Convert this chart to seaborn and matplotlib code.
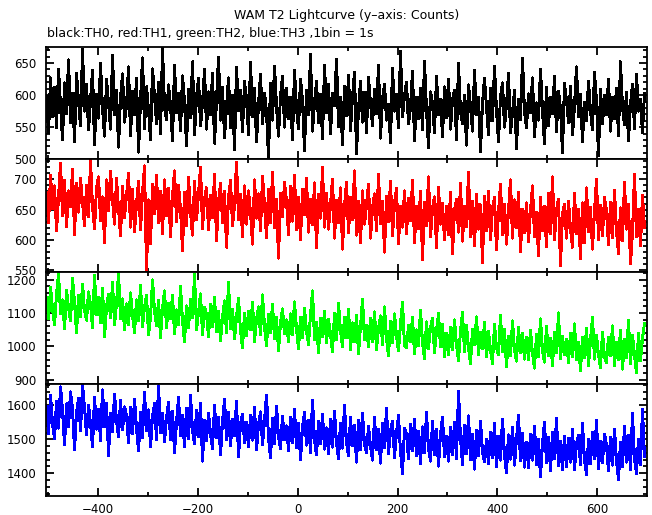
import matplotlib
matplotlib.use('Agg')
import matplotlib.pyplot as plt
from matplotlib.ticker import MultipleLocator
import seaborn as sns
import pandas as pd
import numpy as np

# light curve values (4 s resampled, counts per bin)
t_start = -502
t_step = 4

th0 = [598, 541, 627, 566, 612, 549, 640, 583, 530, 619, 571, 655, 557, 603, 528, 634, 590, 552, 671, 575,
       617, 546, 592, 638, 523, 601, 564, 649, 579, 536, 624, 588, 547, 662, 570, 608, 519, 596, 633, 558,
       585, 644, 537, 606, 569, 626, 511, 592, 658, 548, 613, 577, 531, 641, 599, 556, 620, 540, 673, 581,
       562, 616, 584, 529, 647, 573, 603, 545, 630, 589, 521, 609, 565, 652, 538, 597, 626, 552, 588, 640,
       547, 605, 570, 634, 525, 593, 659, 561, 612, 534, 581, 627, 549, 600, 515, 643, 576, 608, 543, 621,
       594, 539, 651, 567, 610, 527, 586, 632, 555, 603, 574, 502, 618, 561, 645, 582, 536, 598, 629, 550,
       611, 563, 596, 530, 639, 578, 548, 625, 591, 514, 607, 569, 664, 544, 589, 621, 557, 601, 532, 646,
       573, 617, 540, 603, 584, 656, 551, 596, 523, 614, 568, 631, 545, 597, 636, 509, 579, 622, 558, 604,
       542, 628, 587, 553, 609, 571, 647, 533, 594, 617, 561, 585, 526, 642, 575, 601, 549, 668, 566, 599,
       620, 555, 581, 637, 529, 597, 563, 610, 546, 653, 577, 518, 605, 588, 541, 629, 570, 594, 535, 613,
       565, 624, 547, 592, 608, 531, 649, 574, 556, 600, 522, 616, 583, 544, 638, 569, 597, 512, 587, 626,
       581, 539, 611, 560, 645, 576, 528, 598, 619, 550, 585, 634, 541, 572, 607, 516, 593, 562, 657, 574,
       549, 602, 573, 627, 535, 588, 561, 640, 577, 524, 612, 553, 596, 571, 629, 543, 606, 580, 510, 618,
       592, 557, 614, 538, 583, 644, 566, 601, 528, 589, 560, 621, 575, 546, 635, 591, 506, 609, 555, 599,
       570, 625, 544, 596, 563, 611, 537, 652, 582, 554, 604, 529, 586, 617, 548, 632, 575, 594, 541, 603]

th1 = [678, 628, 707, 651, 689, 615, 672, 726, 640, 698, 622, 681, 655, 717, 609, 693, 646, 702, 661, 624,
       690, 638, 731, 654, 619, 686, 704, 632, 671, 596, 699, 648, 713, 665, 626, 701, 652, 607, 688, 637,
       674, 710, 621, 683, 614, 660, 697, 617, 678, 722, 549, 666, 594, 692, 643, 706, 628, 680, 611, 699,
       640, 685, 605, 671, 714, 630, 690, 650, 583, 679, 624, 703, 645, 608, 696, 633, 676, 720, 619, 667,
       686, 617, 673, 637, 708, 599, 664, 693, 629, 680, 588, 670, 698, 623, 657, 728, 634, 675, 606, 689,
       626, 681, 645, 593, 699, 636, 676, 615, 705, 658, 604, 683, 629, 711, 620, 667, 570, 677, 639, 695,
       664, 609, 688, 631, 707, 617, 670, 600, 683, 642, 701, 613, 667, 625, 694, 588, 675, 636, 719, 621,
       677, 618, 660, 700, 603, 665, 628, 686, 585, 655, 695, 612, 670, 633, 714, 608, 663, 595, 681, 626,
       658, 691, 603, 653, 676, 616, 708, 627, 663, 580, 672, 630, 697, 607, 660, 685, 594, 655, 621, 681,
       611, 668, 632, 698, 596, 655, 619, 680, 568, 662, 624, 704, 605, 652, 671, 587, 687, 626, 660, 600,
       656, 609, 679, 577, 649, 667, 613, 693, 598, 655, 622, 711, 606, 663, 590, 675, 618, 658, 563, 672,
       616, 680, 600, 653, 670, 584, 645, 692, 609, 659, 593, 648, 699, 603, 666, 620, 678, 581, 651, 612,
       661, 597, 648, 689, 606, 645, 574, 670, 616, 655, 589, 677, 611, 704, 600, 650, 667, 558, 642, 659,
       603, 664, 618, 588, 677, 610, 650, 569, 661, 596, 686, 614, 654, 585, 646, 700, 601, 657, 607, 670,
       648, 592, 662, 604, 682, 615, 578, 653, 599, 695, 618, 659, 561, 612, 708, 605, 650, 590, 674, 620]

th2 = [1148, 1082, 1177, 1111, 1064, 1156, 1218, 1097, 1139, 1052, 1168, 1115, 1076, 1203, 1131, 1041, 1152, 1090, 1186, 1107,
       1078, 1163, 1124, 1057, 1212, 1096, 1147, 1071, 1174, 1028, 1119, 1155, 1087, 1191, 1066, 1129, 1220, 1082, 1142, 1049,
       1127, 1064, 1160, 1093, 1042, 1139, 1076, 1183, 1058, 1118, 1152, 1035, 1088, 1199, 1106, 1061, 1137, 1027, 1114, 1166,
       1055, 1128, 1083, 1152, 1038, 1109, 1064, 1179, 1077, 1013, 1121, 1057, 1140, 1086, 1215, 1050, 1101, 1157, 1036, 1118,
       1097, 1030, 1126, 1058, 1147, 1044, 1104, 1017, 1085, 1136, 1040, 1192, 1053, 1111, 1022, 1089, 1143, 1046, 996, 1099,
       1031, 1105, 1049, 1131, 1015, 1080, 1118, 1034, 1154, 1059, 1001, 1095, 1040, 1126, 1022, 1086, 988, 1071, 1112, 1038,
       1079, 1013, 1097, 1035, 1133, 1051, 993, 1087, 1026, 1114, 1045, 1006, 1094, 1166, 1020, 1072, 982, 1083, 1030, 1105,
       1012, 1081, 1036, 984, 1099, 1020, 1128, 1046, 1000, 1087, 1027, 1111, 991, 1070, 1015, 1093, 978, 1058, 1141, 1019,
       1063, 999, 1084, 1015, 1103, 990, 1055, 1091, 1006, 1118, 1024, 971, 1074, 1010, 1097, 1031, 986, 1068, 1131, 1003,
       996, 1062, 1015, 1087, 977, 1049, 1001, 1108, 1012, 963, 1073, 994, 1057, 1083, 981, 1046, 1098, 999, 1066, 970,
       1040, 974, 1057, 990, 1079, 1004, 957, 1047, 1101, 984, 1062, 997, 948, 1051, 1006, 1088, 976, 1042, 993, 1071,
       968, 1046, 989, 949, 1065, 996, 974, 1093, 983, 1051, 939, 1031, 971, 1076, 990, 956, 1057, 980, 1040, 962,
       1027, 960, 1048, 979, 935, 1036, 969, 1082, 987, 953, 1060, 972, 1023, 942, 1042, 981, 1100, 964, 1030, 976,
       1021, 951, 1039, 970, 1067, 960, 1012, 927, 1028, 966, 1054, 943, 1017, 1086, 962, 1032, 975, 936, 1043, 968,
       952, 1027, 972, 1061, 943, 1013, 961, 1048, 932, 1020, 967, 1077, 949, 1034, 974, 921, 1039, 958, 1024, 1068]

th3 = [1597, 1518, 1630, 1545, 1502, 1611, 1533, 1655, 1584, 1484, 1605, 1537, 1640, 1589, 1470, 1580, 1620, 1525, 1660, 1593,
       1513, 1601, 1546, 1479, 1624, 1530, 1588, 1497, 1646, 1538, 1607, 1453, 1577, 1522, 1633, 1555, 1507, 1614, 1528, 1596,
       1571, 1490, 1595, 1517, 1619, 1531, 1466, 1580, 1506, 1638, 1525, 1587, 1478, 1568, 1605, 1499, 1658, 1521, 1577, 1493,
       1563, 1609, 1500, 1583, 1461, 1552, 1623, 1511, 1570, 1478, 1592, 1503, 1630, 1527, 1487, 1586, 1508, 1605, 1436, 1556,
       1496, 1577, 1517, 1472, 1601, 1504, 1565, 1455, 1553, 1618, 1499, 1580, 1482, 1560, 1510, 1613, 1449, 1546, 1574, 1491,
       1550, 1478, 1570, 1498, 1595, 1469, 1545, 1581, 1484, 1558, 1630, 1503, 1447, 1563, 1488, 1598, 1509, 1473, 1568, 1500,
       1540, 1467, 1565, 1490, 1589, 1476, 1548, 1440, 1535, 1580, 1483, 1557, 1462, 1616, 1497, 1454, 1553, 1487, 1573, 1471,
       1534, 1459, 1558, 1477, 1583, 1489, 1444, 1547, 1474, 1600, 1492, 1451, 1564, 1481, 1542, 1433, 1555, 1470, 1577, 1486,
       1461, 1539, 1478, 1439, 1564, 1469, 1530, 1430, 1548, 1476, 1591, 1457, 1525, 1553, 1447, 1519, 1570, 1464, 1399, 1532,
       1517, 1443, 1545, 1467, 1558, 1452, 1524, 1429, 1537, 1461, 1579, 1474, 1436, 1552, 1456, 1530, 1421, 1515, 1566, 1449,
       1508, 1436, 1536, 1455, 1550, 1444, 1641, 1504, 1425, 1541, 1459, 1569, 1441, 1515, 1412, 1527, 1451, 1554, 1464, 1433,
       1499, 1428, 1521, 1446, 1546, 1420, 1508, 1439, 1560, 1453, 1401, 1513, 1442, 1535, 1424, 1502, 1570, 1437, 1517, 1418,
       1492, 1417, 1515, 1439, 1539, 1426, 1500, 1390, 1486, 1551, 1431, 1507, 1408, 1521, 1443, 1562, 1422, 1494, 1411, 1510,
       1419, 1504, 1433, 1529, 1410, 1488, 1513, 1425, 1546, 1440, 1397, 1499, 1428, 1521, 1444, 1555, 1413, 1493, 1431, 1516,
       1484, 1408, 1507, 1424, 1530, 1437, 1382, 1492, 1419, 1539, 1433, 1511, 1411, 1576, 1442, 1400, 1501, 1426, 1588, 1448]

series = [th0, th1, th2, th3]
colors = ['black', 'red', '#00ff00', 'blue']
ylims = [(500, 675), (548, 733), (888, 1224), (1333, 1664)]
ymajor = [50, 50, 100, 100]
yminor = [10, 10, 20, 20]

sns.set_style('ticks')
plt.rcParams['font.family'] = ['DejaVu Sans']
plt.rcParams['axes.unicode_minus'] = True
plt.rcParams.update({'text.color': 'black', 'axes.edgecolor': 'black',
                     'xtick.color': 'black', 'ytick.color': 'black',
                     'axes.labelcolor': 'black'})

fig, axes = plt.subplots(4, 1, figsize=(6.52, 5.15), dpi=100, sharex=True)
fig.subplots_adjust(left=0.0706, right=0.9923, top=0.9087, bottom=0.0369, hspace=0)

for ax, vals, c, yl, ma, mi in zip(axes, series, colors, ylims, ymajor, yminor):
    df = pd.DataFrame({'time': t_start + t_step * np.arange(len(vals)), 'counts': vals})
    sns.lineplot(data=df, x='time', y='counts', ax=ax, color=c, lw=1.4,
                 estimator=None, antialiased=False)
    ax.set_xlim(-503, 699)
    ax.set_ylim(*yl)
    ax.set_xlabel('')
    ax.set_ylabel('')
    ax.xaxis.set_major_locator(MultipleLocator(200))
    ax.xaxis.set_minor_locator(MultipleLocator(100))
    ax.yaxis.set_major_locator(MultipleLocator(ma))
    ax.yaxis.set_minor_locator(MultipleLocator(mi))
    ax.tick_params(which='both', direction='in', top=True, right=True, labelsize=8.5, width=1.3)
    ax.tick_params(which='major', length=6, pad=7)
    ax.tick_params(which='minor', length=3)
    for s in ax.spines.values():
        s.set_linewidth(1.3)

axes[-1].tick_params(axis='x', pad=5)

fig.text(0.531, 0.963, 'WAM T2 Lightcurve (y\u2013axis: Counts)', ha='center', va='baseline', fontsize=9)
fig.text(0.072, 0.928, 'black:TH0, red:TH1, green:TH2, blue:TH3 ,1bin = 1s', ha='left', va='baseline', fontsize=9)

fig.savefig('out.png', dpi=100)
